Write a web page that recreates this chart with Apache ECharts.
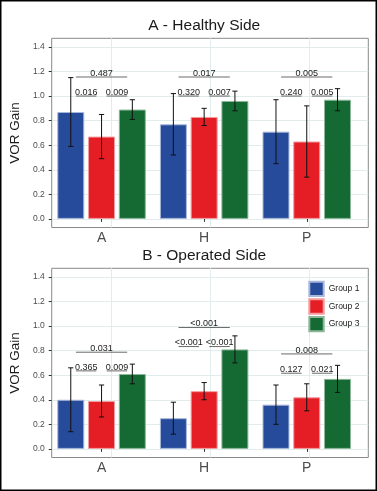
<!DOCTYPE html>
<html>
<head>
<meta charset="utf-8">
<script src="https://cdn.jsdelivr.net/npm/echarts@6/dist/echarts.min.js"></script>
<style>
  html, body { margin: 0; padding: 0; background: #fff; }
  #chart { width: 377px; height: 491px; }
</style>
</head>
<body>
<div id="chart"></div>
<script>
// categories and groups
const categories = ['A', 'H', 'P'];
const groups = ['Group 1', 'Group 2', 'Group 3'];
const yTicks = [0, 0.2, 0.4, 0.6, 0.8, 1.0, 1.2, 1.4];

// A - Healthy side: one row per group, values in A, H, P order
const healthyMean = [[0.87, 0.77, 0.71], [0.67, 0.83, 0.63], [0.89, 0.96, 0.97]];
const healthyLow  = [[0.59, 0.52, 0.45], [0.49, 0.76, 0.34], [0.81, 0.88, 0.88]];
const healthyHigh = [[1.15, 1.02, 0.97], [0.85, 0.90, 0.92], [0.97, 1.04, 1.06]];
// [category, group a, group b, bracket height, p value]
const healthyPairs = [
  [0, 1, 2, 1.0, '0.016'], [0, 2, 3, 1.0, '0.009'], [0, 1, 3, 1.155, '0.487'],
  [1, 1, 2, 1.0, '0.320'], [1, 2, 3, 1.0, '0.007'], [1, 1, 3, 1.155, '0.017'],
  [2, 1, 2, 1.0, '0.240'], [2, 2, 3, 1.0, '0.005'], [2, 1, 3, 1.155, '0.005']
];

// B - Operated side
const operatedMean = [[0.40, 0.25, 0.36], [0.39, 0.47, 0.42], [0.61, 0.81, 0.57]];
const operatedLow  = [[0.14, 0.12, 0.20], [0.26, 0.40, 0.31], [0.53, 0.70, 0.46]];
const operatedHigh = [[0.66, 0.38, 0.52], [0.52, 0.54, 0.53], [0.69, 0.92, 0.68]];
const operatedPairs = [
  [0, 1, 2, 0.635, '0.365'], [0, 2, 3, 0.635, '0.009'], [0, 1, 3, 0.787, '0.031'],
  [1, 1, 2, 0.833, '<0.001'], [1, 2, 3, 0.833, '<0.001'], [1, 1, 3, 0.988, '<0.001'],
  [2, 1, 2, 0.616, '0.127'], [2, 2, 3, 0.616, '0.021'], [2, 1, 3, 0.773, '0.008']
];

const colors = ['#264b9a', '#e41e24', '#146a32'];
const edgeColors = ['#a9b7da', '#f39c9e', '#8db79a'];
const FONT = '"Liberation Sans", Arial, sans-serif';
const DODGE = 0.3;      // bar centre spacing, fraction of band
const GRID_COLOR = '#e1ecec';
const Y_MIN = -0.07, Y_MAX = 1.47;

const chart = echarts.init(document.getElementById('chart'));

function errorBarItem(params, api) {
  const band = api.size([1, 0])[0];
  const x = api.coord([api.value(0), 0])[0] + (api.value(1) - 2) * band * DODGE;
  const yLo = api.coord([api.value(0), api.value(2)])[1];
  const yHi = api.coord([api.value(0), api.value(3)])[1];
  const cap = 2.6;
  const style = { stroke: '#111', lineWidth: 1 };
  return {
    type: 'group',
    children: [
      { type: 'line', shape: { x1: x, y1: yLo, x2: x, y2: yHi }, style },
      { type: 'line', shape: { x1: x - cap, y1: yHi, x2: x + cap, y2: yHi }, style },
      { type: 'line', shape: { x1: x - cap, y1: yLo, x2: x + cap, y2: yLo }, style }
    ]
  };
}

function bracketItem(pairs) {
  return function (params, api) {
    const row = pairs[params.dataIndex];
    const band = api.size([1, 0])[0];
    const cx = api.coord([row[0], 0])[0];
    const inset = band * 0.05;
    const x1 = cx + (row[1] - 2) * band * DODGE + inset;
    const x2 = cx + (row[2] - 2) * band * DODGE - inset;
    const y = api.coord([row[0], row[3]])[1];
    return {
      type: 'group',
      children: [
        { type: 'line', shape: { x1, y1: y, x2, y2: y }, style: { stroke: '#444', lineWidth: 0.8 } },
        { type: 'text', x: (x1 + x2) / 2, y: y + 0.8,
          style: { text: row[4], align: 'center', verticalAlign: 'bottom',
                   fontSize: 9, fontFamily: FONT, fill: '#1a1a1a' } }
      ]
    };
  };
}

const panels = [
  { top: 38.3, mean: healthyMean, low: healthyLow, high: healthyHigh, pairs: healthyPairs },
  { top: 268.3, mean: operatedMean, low: operatedLow, high: operatedHigh, pairs: operatedPairs }
];

const grid = [], xAxis = [], yAxis = [], series = [];
panels.forEach((p, i) => {
  const outer = i * 2, inner = i * 2 + 1;
  grid.push({ left: 40, top: p.top, width: 328.3, height: 189.2, show: true,
              borderColor: '#8a8a8a', borderWidth: 1, backgroundColor: '#fff' });
  grid.push({ left: 50.25, top: p.top, width: 307.8, height: 189.2 });

  xAxis.push({ gridIndex: outer, type: 'value', min: 0.4, max: 3.6, show: false });
  xAxis.push({
    gridIndex: inner, type: 'category', data: categories,
    axisLine: { show: false },
    axisTick: { show: true, alignWithLabel: true, length: 3, lineStyle: { color: '#333' } },
    axisLabel: { fontSize: 14, color: '#4d4d4d', margin: 3.5, fontFamily: FONT },
    splitLine: { show: false }
  });

  yAxis.push({
    gridIndex: outer, type: 'value', min: Y_MIN, max: Y_MAX, splitNumber: 8,
    name: 'VOR Gain', nameLocation: 'middle', nameGap: 25,
    nameTextStyle: { fontSize: 13.5, color: '#1a1a1a', fontFamily: FONT },
    axisLine: { show: false },
    axisTick: { show: true, length: 3, customValues: yTicks, lineStyle: { color: '#333' } },
    axisLabel: { customValues: yTicks, fontSize: 8.5, color: '#4d4d4d', margin: 7,
                 fontFamily: FONT, formatter: v => v.toFixed(1) },
    splitLine: { show: true, lineStyle: { color: GRID_COLOR, width: 1 } }
  });
  yAxis.push({ gridIndex: inner, type: 'value', min: Y_MIN, max: Y_MAX, show: false });

  // vertical grid lines at the category centres
  series.push({
    type: 'line', xAxisIndex: outer, yAxisIndex: outer, data: [], z: 1, silent: true,
    markLine: {
      silent: true, symbol: 'none', z: 1, animation: false,
      label: { show: false },
      lineStyle: { color: GRID_COLOR, width: 1, type: 'solid' },
      data: [{ xAxis: 1 }, { xAxis: 2 }, { xAxis: 3 }]
    }
  });

  groups.forEach((g, gi) => {
    series.push({
      name: g, type: 'bar', xAxisIndex: inner, yAxisIndex: inner,
      data: p.mean[gi], barWidth: '26.3%', barGap: '14%', z: 10,
      itemStyle: { color: colors[gi], borderColor: edgeColors[gi], borderWidth: 1 }
    });
  });

  const errData = [];
  groups.forEach((g, gi) => {
    categories.forEach((c, ci) => errData.push([ci, gi + 1, p.low[gi][ci], p.high[gi][ci]]));
  });
  series.push({
    type: 'custom', xAxisIndex: inner, yAxisIndex: inner, z: 12, silent: true,
    renderItem: errorBarItem, encode: { x: 0, y: [2, 3] }, data: errData
  });

  series.push({
    type: 'custom', xAxisIndex: inner, yAxisIndex: inner, z: 12, silent: true,
    renderItem: bracketItem(p.pairs), encode: { x: 0, y: 3 },
    data: p.pairs.map(r => [r[0], r[1], r[2], r[3]])
  });
});

chart.setOption({
  animation: false,
  textStyle: { fontFamily: FONT },
  grid, xAxis, yAxis, series,
  legend: {
    data: groups, orient: 'vertical', left: 308.3, top: 280.7,
    itemWidth: 14.4, itemHeight: 14.4, itemGap: 1.2, padding: 0,
    icon: 'rect',
    textStyle: { fontSize: 8.5, color: '#1a1a1a', fontFamily: FONT }
  },
  graphic: [
    { type: 'rect', shape: { x: 0.75, y: 0.75, width: 375.5, height: 489.5 },
      style: { fill: 'none', stroke: '#000', lineWidth: 1.5 }, silent: true },
    { type: 'text', x: 204.2, y: 25.5,
      style: { text: 'A - Healthy Side', align: 'center', verticalAlign: 'middle',
               fontSize: 15.5, fontFamily: FONT, fill: '#1a1a1a' } },
    { type: 'text', x: 204.2, y: 255.6,
      style: { text: 'B - Operated Side', align: 'center', verticalAlign: 'middle',
               fontSize: 15.5, fontFamily: FONT, fill: '#1a1a1a' } }
  ]
});
</script>
</body>
</html>
